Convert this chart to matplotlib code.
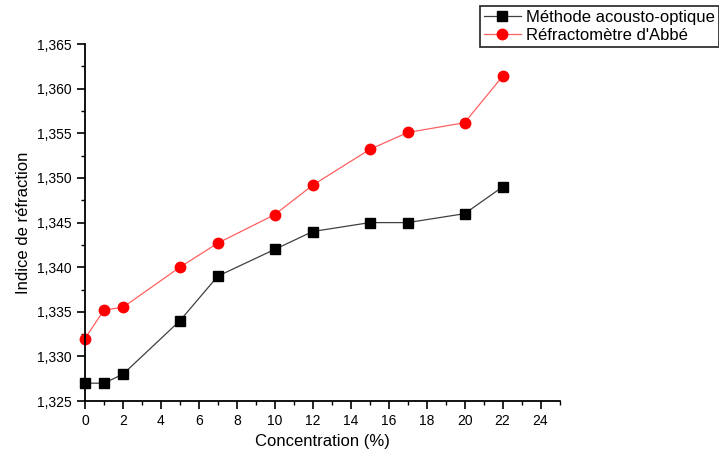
import numpy as np
import matplotlib
matplotlib.use('Agg')
import matplotlib.pyplot as plt
from matplotlib.ticker import MultipleLocator, FuncFormatter

plt.rcParams['font.family'] = ['Liberation Sans', 'DejaVu Sans']

conc = [0, 1, 2, 5, 7, 10, 12, 15, 17, 20, 22]
n_acousto = [1.327, 1.327, 1.328, 1.334, 1.339, 1.342, 1.344, 1.345, 1.345, 1.346, 1.349]
n_abbe = [1.332, 1.3352, 1.3355, 1.340, 1.3427, 1.3459, 1.3492, 1.3532, 1.3551, 1.3562, 1.3614]

fig = plt.figure(figsize=(7.19, 4.54), dpi=100)
ax = fig.add_axes([0.1182, 0.1167, 0.660, 0.786])

ax.plot(conc, n_acousto, '-', color='#404040', lw=0.9, marker='s',
        markersize=7, markerfacecolor='black', markeredgecolor='black',
        label='Méthode acousto-optique')
ax.plot(conc, n_abbe, '-', color='#ff6060', lw=0.9, marker='o',
        markersize=7.5, markerfacecolor='red', markeredgecolor='red',
        label="Réfractomètre d'Abbé")

ax.set_xlim(0, 25)
ax.set_ylim(1.325, 1.365)
ax.xaxis.set_major_locator(MultipleLocator(2))
ax.xaxis.set_minor_locator(MultipleLocator(1))
ax.yaxis.set_major_locator(MultipleLocator(0.005))
ax.yaxis.set_minor_locator(MultipleLocator(0.0025))
ax.yaxis.set_major_formatter(FuncFormatter(lambda v, p: ('%.3f' % v).replace('.', ',')))
ax.set_xticks([0, 2, 4, 6, 8, 10, 12, 14, 16, 18, 20, 22, 24])

for s in ['top', 'right']:
    ax.spines[s].set_visible(False)
for s in ['left', 'bottom']:
    ax.spines[s].set_linewidth(1.3)
ax.tick_params(which='major', direction='out', length=6, width=1.2, labelsize=10)
ax.tick_params(which='minor', direction='out', length=3, width=1.0)

ax.set_xlabel('Concentration (%)', fontsize=12)
ax.set_ylabel('Indice de réfraction', fontsize=12)
ax.set_clip_on(False)
for l in ax.lines:
    l.set_clip_on(False)

leg = fig.legend(loc='upper right', bbox_to_anchor=(0.9995, 0.987), fontsize=12,
                 frameon=True, fancybox=False, borderpad=0.25, labelspacing=0.15,
                 handlelength=2.2, handletextpad=0.3, borderaxespad=0)
leg.get_frame().set_edgecolor('black')
leg.get_frame().set_linewidth(1.3)

fig.savefig('out.png', dpi=100)
